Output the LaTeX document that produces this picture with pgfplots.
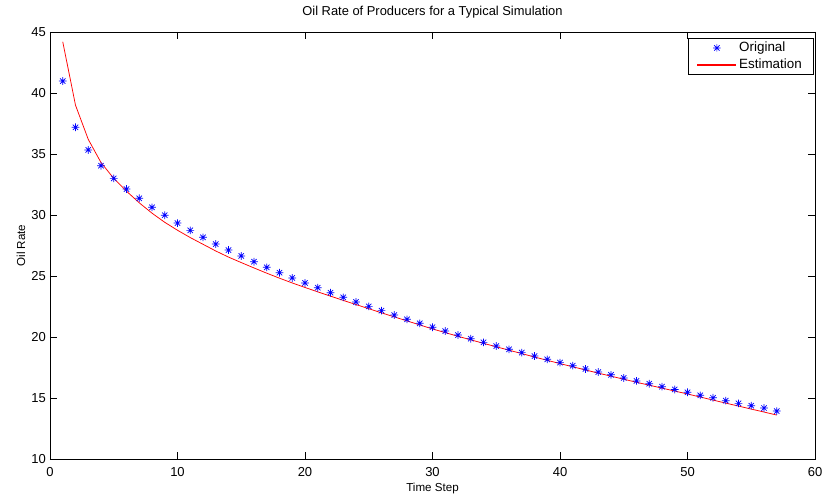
\documentclass[border=0pt]{standalone}
\usepackage{fontspec}
\setmainfont{Liberation Sans}
\usepackage{pgfplots}
\pgfplotsset{compat=1.18}
\pgfdeclareplotmark{mstar}{%
 \pgfpathmoveto{\pgfpoint{0pt}{\pgfplotmarksize}}\pgfpathlineto{\pgfpoint{0pt}{-\pgfplotmarksize}}%
 \pgfpathmoveto{\pgfpoint{\pgfplotmarksize}{0pt}}\pgfpathlineto{\pgfpoint{-\pgfplotmarksize}{0pt}}%
 \pgfpathmoveto{\pgfpoint{.707\pgfplotmarksize}{.707\pgfplotmarksize}}\pgfpathlineto{\pgfpoint{-.707\pgfplotmarksize}{-.707\pgfplotmarksize}}%
 \pgfpathmoveto{\pgfpoint{-.707\pgfplotmarksize}{.707\pgfplotmarksize}}\pgfpathlineto{\pgfpoint{.707\pgfplotmarksize}{-.707\pgfplotmarksize}}%
 \pgfusepathqstroke}
\pgfplotstableread{
x y
1 40.98
2 37.19
3 35.33
4 34.04
5 33.00
6 32.13
7 31.37
8 30.63
9 29.98
10 29.34
11 28.74
12 28.17
13 27.62
14 27.13
15 26.64
16 26.17
17 25.71
18 25.27
19 24.84
20 24.43
21 24.04
22 23.63
23 23.25
24 22.87
25 22.51
26 22.16
27 21.80
28 21.45
29 21.12
30 20.80
31 20.49
32 20.16
33 19.86
34 19.56
35 19.26
36 18.99
37 18.72
38 18.44
39 18.17
40 17.90
41 17.65
42 17.38
43 17.13
44 16.90
45 16.64
46 16.40
47 16.17
48 15.93
49 15.70
50 15.47
51 15.22
52 15.02
53 14.78
54 14.56
55 14.37
56 14.18
57 13.93
}\original
\pgfplotstableread{
x y
1 44.20
2 39.00
3 36.20
4 34.30
5 33.00
6 31.95
7 31.00
8 30.15
9 29.40
10 28.75
11 28.15
12 27.60
13 27.05
14 26.55
15 26.10
16 25.66
17 25.23
18 24.82
19 24.43
20 24.06
21 23.70
22 23.35
23 23.00
24 22.66
25 22.32
26 21.98
27 21.65
28 21.32
29 20.99
30 20.66
31 20.36
32 20.06
33 19.77
34 19.48
35 19.20
36 18.92
37 18.64
38 18.36
39 18.09
40 17.82
41 17.56
42 17.30
43 17.04
44 16.79
45 16.54
46 16.29
47 16.05
48 15.81
49 15.57
50 15.33
51 15.08
52 14.83
53 14.58
54 14.34
55 14.09
56 13.85
57 13.60
}\estimation
\begin{document}
\fontsize{11.6bp}{13bp}\selectfont
\begin{tikzpicture}
\useasboundingbox (0bp,0bp) rectangle (824bp,497bp);
\begin{axis}[
 at={(50bp,38bp)}, anchor=south west,
 scale only axis, width=765bp, height=427bp,
 xmin=0, xmax=60, ymin=10, ymax=45,
 xtick={0,10,...,60}, ytick={10,15,...,45},
 tick align=inside, major tick length=7bp,
 tick style={black, line width=0.5bp},
 axis line style={black, line width=0.8bp},
 /pgf/number format/assume math mode=true,
 ticklabel style={font=\fontsize{13bp}{15bp}\selectfont},
 xticklabel style={anchor=base, yshift=-18bp, inner sep=0pt},
 yticklabel style={anchor=east, xshift=-4bp, inner sep=0pt},
 title={Oil Rate of Producers for a Typical Simulation},
 title style={at={(axis description cs:0.5,1)}, anchor=base, yshift=11bp, inner sep=0pt, font=\fontsize{12.9bp}{15bp}\selectfont},
 xlabel={Time Step},
 xlabel style={at={(axis description cs:0.5,0)}, anchor=base, yshift=-33bp, inner sep=0pt, font=\fontsize{11.6bp}{13bp}\selectfont},
 ylabel={Oil Rate},
 ylabel style={at={(axis description cs:0,0.5)}, anchor=base, yshift=25bp, inner sep=0pt, font=\fontsize{11.6bp}{13bp}\selectfont},
 legend style={at={(axis description cs:0.9974,0.986)}, anchor=north east, draw=black, line width=0.5bp,
   font=\fontsize{13.4bp}{15bp}\selectfont, inner xsep=9bp, inner ysep=2bp, row sep=1.5bp, column sep=1bp,
   cells={anchor=west, inner sep=2bp}},
]
\addplot[only marks, mark=mstar, mark size=3.8bp, color=blue, mark options={line width=0.7bp},
  legend image code/.code={\draw[blue, line width=0.7bp, mark=mstar, mark size=3.8bp] plot coordinates {(19bp,0bp)}; \path (0bp,-1bp) (38bp,1bp);}] table[x=x,y=y] {\original};
\addlegendentry{Original}
\addplot[color=red, line width=0.75bp, no marks,
  legend image code/.code={\fill[red] (0bp,-0.5bp) rectangle (38bp,0.5bp);}] table[x=x,y=y] {\estimation};
\addlegendentry{Estimation}
\end{axis}
\end{tikzpicture}
\end{document}
